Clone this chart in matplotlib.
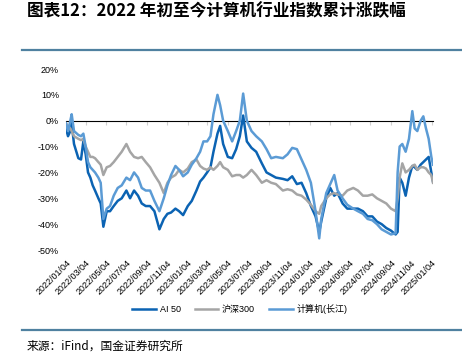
import matplotlib
matplotlib.use("Agg")
from matplotlib import pyplot as plt
import matplotlib.lines as mlines
import pandas as pd

plt.rcParams['font.family'] = ['Liberation Sans', 'Noto Sans CJK SC', 'DejaVu Sans']

# 日期（大致从图上读出的取样点）
dates = [
    "2022-01-04", "2022-01-10", "2022-01-17", "2022-01-21", "2022-01-28", "2022-02-10",
    "2022-02-18", "2022-02-25", "2022-03-04", "2022-03-11", "2022-03-18", "2022-03-25",
    "2022-04-01", "2022-04-11", "2022-04-18", "2022-04-26", "2022-05-06", "2022-05-16",
    "2022-05-27", "2022-06-08", "2022-06-20", "2022-07-04", "2022-07-15", "2022-07-27",
    "2022-08-08", "2022-08-19", "2022-08-31", "2022-09-13", "2022-09-26", "2022-10-11",
    "2022-10-24", "2022-11-04", "2022-11-15", "2022-11-28", "2022-12-09", "2022-12-21",
    "2023-01-04", "2023-01-16", "2023-01-30", "2023-02-10", "2023-02-20", "2023-03-03",
    "2023-03-13", "2023-03-22", "2023-04-03", "2023-04-11", "2023-04-20", "2023-05-04",
    "2023-05-17", "2023-05-29", "2023-06-09", "2023-06-19", "2023-06-30", "2023-07-14",
    "2023-07-28", "2023-08-14", "2023-08-28", "2023-09-11", "2023-09-25", "2023-10-16",
    "2023-10-30", "2023-11-13", "2023-11-27", "2023-12-11", "2023-12-25", "2024-01-08",
    "2024-01-22", "2024-02-02", "2024-02-08", "2024-02-23", "2024-03-06", "2024-03-18",
    "2024-03-28", "2024-04-12", "2024-04-26", "2024-05-14", "2024-05-28", "2024-06-12",
    "2024-06-26", "2024-07-10", "2024-07-24", "2024-08-07", "2024-08-21", "2024-09-04",
    "2024-09-18", "2024-09-24", "2024-09-30", "2024-10-08", "2024-10-18", "2024-10-28",
    "2024-11-07", "2024-11-14", "2024-11-22", "2024-12-02", "2024-12-10", "2024-12-18",
    "2024-12-26", "2025-01-03", "2025-01-08",
]

# AI 50 累计涨跌幅 %
ai50 = [
    -3, -6, -4, -1, -9, -14.5, -15, -8, -13, -20, -22, -25,
    -27, -30, -32, -41, -35, -35, -33, -31, -30, -27, -30, -27,
    -29, -32, -33, -33, -35, -42, -38, -36, -35.5, -34, -35, -36.5,
    -33, -31, -27, -23.5, -22, -20, -18, -12, -5, -2, -9, -14,
    -14.5, -11, -6, 2, -8, -10.5, -12, -16.5, -20, -21, -22, -22.5,
    -23, -21.5, -24.5, -24, -28, -33, -37, -43, -39, -30, -26, -29,
    -28, -32, -34, -34, -34, -35, -37, -37, -39, -40, -41.5, -42.5,
    -44, -43, -22, -24, -29, -22, -17.5, -18, -19, -17, -16, -15,
    -14, -20, -23.5,
]

# 沪深300 累计涨跌幅 %
hs300 = [
    -1, -2, -3, -4, -6, -7, -7.5, -7, -10, -12, -14, -14,
    -14.5, -16, -17, -21, -18, -17.5, -16, -14, -12, -9, -12, -14,
    -14.5, -14, -16, -18, -21, -24, -28, -24, -22, -21, -19, -20,
    -18.5, -16, -15, -17.5, -18.5, -19, -18, -19, -17.5, -16, -18, -19,
    -21.5, -21, -21, -22, -21, -19, -21, -24, -23, -24, -24.5, -27,
    -26.5, -27, -28.5, -29, -30.5, -32.5, -35, -36, -33, -30, -28.5, -28,
    -28.5, -29, -27, -26, -27, -29, -29, -28.5, -30, -31, -32, -34,
    -35, -30, -22, -16.5, -20, -19, -17.5, -17, -19, -18, -18, -18.5,
    -20, -21, -24,
]

# 计算机(长江) 累计涨跌幅 %
computer = [
    -1, -4, 0, 2.5, -4, -5.5, -6, -5, -10, -16, -18, -19,
    -20, -22, -24, -38, -34, -33, -29, -26, -25, -22, -23, -20,
    -22, -26, -27, -27, -31, -35, -30, -25, -21, -17.5, -19, -21.5,
    -20, -17, -14.5, -12, -8, -8, -6, 2.5, 10, 6, 0, -4,
    -8, -4, 0, 10.5, 0, -4, -6, -8, -11, -14.5, -14, -14.5,
    -13, -10.5, -11, -15, -19, -24, -35, -45.5, -38, -28, -24.5, -21,
    -27, -30, -32.5, -34, -35, -36, -38, -38.5, -40, -42, -43, -44,
    -43.5, -20, -10, -9, -12, -7, 3.7, -3, -4, 0, 1.7, -3,
    -7, -14, -17,
]

tick_labels = [
    "2022/01/04", "2022/03/04", "2022/05/04", "2022/07/04", "2022/09/04", "2022/11/04",
    "2023/01/04", "2023/03/04", "2023/05/04", "2023/07/04", "2023/09/04", "2023/11/04",
    "2024/01/04", "2024/03/04", "2024/05/04", "2024/07/04", "2024/09/04", "2024/11/04",
    "2025/01/04",
]

x = pd.to_datetime(dates)
tick_pos = pd.to_datetime(tick_labels, format="%Y/%m/%d")

fig = plt.figure(figsize=(4.62, 3.56), dpi=100)
ax = fig.add_axes([66 / 462, 1 - 250 / 356, (433 - 66) / 462, (250 - 69) / 356])

ax.plot(x, ai50, color='#0B63B3', lw=1.8, label='AI 50')
ax.plot(x, hs300, color='#A5A5A5', lw=1.8, label='沪深300')
ax.plot(x, computer, color='#5B9BD5', lw=1.8, label='计算机(长江)')

ax.set_xlim(x[0], x[-1])
ax.set_ylim(-50, 20)
ax.set_yticks(range(-50, 21, 10))
ax.set_yticklabels([f"{v}%" for v in range(-50, 21, 10)], fontsize=6.5)
ax.tick_params(axis='y', length=0, pad=5)

ax.set_xticks(tick_pos)
ax.set_xticklabels(tick_labels, rotation=45, ha='right', rotation_mode='anchor', fontsize=6.5)
ax.tick_params(axis='x', length=0, pad=6)

for s in ax.spines.values():
    s.set_visible(False)

# 0 轴线（带刻度）
sec = ax.secondary_xaxis(50 / 70)
sec.set_xticks(tick_pos)
sec.set_xticklabels([])
sec.tick_params(direction='in', length=3, color='#D0D0D0', width=0.8)
sec.spines['bottom'].set_color('#D0D0D0')
sec.spines['bottom'].set_linewidth(1.0)
ax.set_zorder(1)
ax.patch.set_visible(False)

ax.legend(loc='upper center', bbox_to_anchor=(240 / 462, 1 - 296 / 356), bbox_transform=fig.transFigure,
          ncol=3, frameon=False, fontsize=6.5, handlelength=2.6, columnspacing=1.6, handletextpad=0.4)

# 标题和来源
fig.text(27 / 462, 1 - 11 / 356, "图表12：2022 年初至今计算机行业指数累计涨跌幅", fontsize=12,
         fontweight='bold', va='center', ha='left', family=['Noto Sans CJK SC', 'DejaVu Sans'])
fig.add_artist(mlines.Line2D([22 / 462, 1], [1 - 50 / 356, 1 - 50 / 356], color='#4F81A0', lw=1.6))
fig.add_artist(mlines.Line2D([22 / 462, 1], [1 - 330 / 356, 1 - 330 / 356], color='#4F81A0', lw=1.6))
fig.text(27 / 462, 1 - 346 / 356, "来源：iFind，国金证券研究所", fontsize=8.5, va='center', ha='left',
         family=['Noto Sans CJK SC', 'DejaVu Sans'])

fig.savefig('out.png', dpi=100)
